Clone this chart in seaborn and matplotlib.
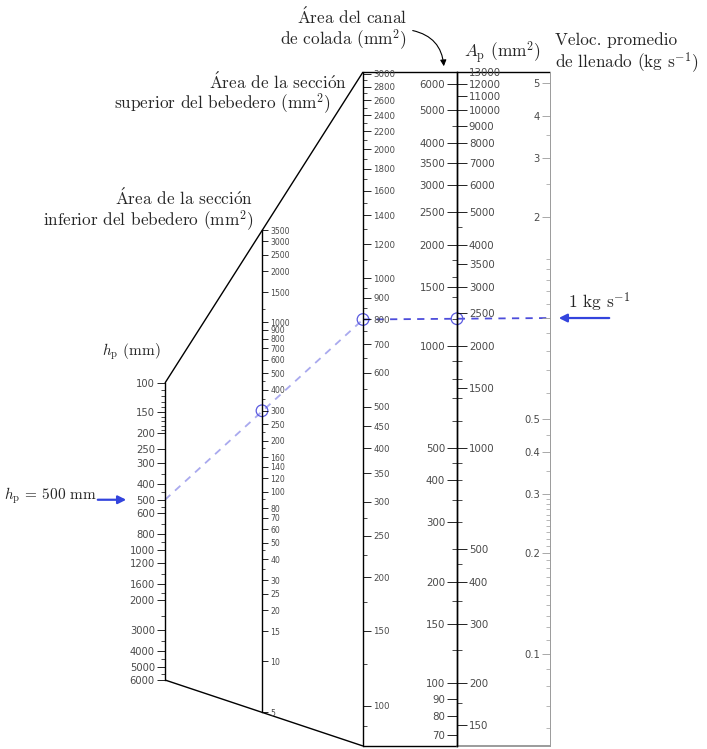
import matplotlib
matplotlib.use("Agg")
import matplotlib.pyplot as plt
from matplotlib.ticker import NullFormatter
import numpy as np
import seaborn as sns

# ---- scale values ----
hp_major = [100, 150, 200, 250, 300, 400, 500, 600, 800, 1000, 1200, 1600, 2000, 3000, 4000, 5000, 6000]
hp_minor = [110, 120, 130, 140, 160, 170, 180, 190, 350, 450, 550, 700, 900, 1400, 1800, 2500, 3500, 4500, 5500]

low_major = [3500, 3000, 2500, 2000, 1500, 1000, 900, 800, 700, 600, 500, 400, 300, 250, 200,
             160, 140, 120, 100, 80, 70, 60, 50, 40, 30, 25, 20, 15, 10, 5]
low_minor = [1200, 450, 350, 225, 180, 90, 45, 35]

up_major = [3000, 2800, 2600, 2400, 2200, 2000, 1800, 1600, 1400, 1200, 1000, 900, 800, 700,
            600, 500, 450, 400, 350, 300, 250, 200, 150, 100]
up_minor = [2900, 2700, 2500, 2300, 2100, 1900, 1700, 1500, 1300, 1100, 950, 850, 750, 650,
            550, 275, 225, 175, 125, 90]

ap_left_major = [6000, 5000, 4000, 3500, 3000, 2500, 2000, 1500, 1000, 500, 400, 300, 200, 150, 100, 90, 80, 70]
ap_left_minor = [4500, 1800, 1600, 1400, 1200, 900, 800, 700, 600, 450, 350, 250, 175, 125]
ap_right_major = [13000, 12000, 11000, 10000, 9000, 8000, 7000, 6000, 5000, 4000, 3500, 3000,
                  2500, 2000, 1500, 1000, 500, 400, 300, 200, 150]
ap_right_minor = [4500, 1800, 1600, 1400, 1200, 900, 800, 700, 600, 450, 350, 250, 175]

vel_major = [5, 4, 3, 2, 1, 0.5, 0.4, 0.3, 0.2, 0.1]
vel_labels = ['5', '4', '3', '2', '', '0.5', '0.4', '0.3', '0.2', '0.1']
vel_minor = [3.5, 2.5, 1.5, 1.4, 1.3, 1.2, 1.1, 0.9, 0.8, 0.7, 0.6, 0.45, 0.35,
             0.29, 0.28, 0.27, 0.26, 0.25, 0.24, 0.23, 0.22, 0.21,
             0.19, 0.18, 0.17, 0.16, 0.15, 0.14, 0.13, 0.12, 0.11,
             0.09, 0.08, 0.07, 0.06]

# worked example
hp_sel = 500
low_sel = 300
up_sel = 800
vel_sel = 1

sns.set_theme(style="white")
plt.rcParams['font.family'] = ['cmr10', 'DejaVu Serif']
plt.rcParams['mathtext.fontset'] = 'cm'
plt.rcParams['axes.unicode_minus'] = False

W, H = 707, 749
fig = plt.figure(figsize=(W / 100, H / 100), dpi=100)
base = fig.add_axes([0, 0, 1, 1])
base.set_xlim(0, W)
base.set_ylim(H, 0)
base.axis('off')

TICK_FONT = 'DejaVu Sans'


def scale(x, y_top, y_bot, lim, side, major, labels, minor, size=7.4, length=6.0,
          color='black', lw=1.0):
    ax = fig.add_axes([x / W, 1 - y_bot / H, 1e-5, (y_bot - y_top) / H])
    ax.patch.set_visible(False)
    ax.set_yscale('log')
    ax.set_ylim(*lim)
    ax.set_xlim(0, 1)
    ax.set_xticks([])
    for s in ['top', 'bottom', 'left', 'right']:
        ax.spines[s].set_visible(s == side)
    ax.spines[side].set_color(color)
    ax.spines[side].set_linewidth(lw)
    ax.yaxis.set_ticks_position(side)
    ax.set_yticks(major, labels=labels)
    ax.set_yticks(minor, minor=True)
    ax.yaxis.set_minor_formatter(NullFormatter())
    ax.tick_params(axis='y', which='major', direction='out', length=length, width=0.6,
                   color=color, labelcolor='#4a4a4a', labelsize=size, pad=1.5)
    ax.tick_params(axis='y', which='minor', direction='out', length=length * 0.5, width=0.5, color=color)
    for t in ax.get_yticklabels():
        t.set_fontfamily(TICK_FONT)
    return ax


ax_hp = scale(165, 383, 680, (6000, 100), 'left', hp_major, [str(v) for v in hp_major], hp_minor,
              size=7.2, length=5.8)
ax_low = scale(262, 230, 712, (5, 3500), 'right', low_major, [str(v) for v in low_major], low_minor,
               size=5.6, length=4.3)
ax_up = scale(363, 72, 746, (80.6, 3030), 'right', up_major, [str(v) for v in up_major], up_minor,
              size=6.2, length=5.8)
ax_apl = scale(457, 72, 746, (65.1, 6500), 'left', ap_left_major, [str(v) for v in ap_left_major],
               ap_left_minor, size=7.4, length=7.0)
ax_apr = scale(457, 72, 746, (130.2, 13000), 'right', ap_right_major, [str(v) for v in ap_right_major],
               ap_right_minor, size=7.4, length=7.0)
ax_vel = scale(550, 72, 746, (0.0532, 5.40), 'left', vel_major, vel_labels, vel_minor,
               size=7.2, length=5.8, color='#9a9a9a', lw=0.7)


def pt(ax, v):
    disp = ax.transData.transform((0, v))
    return base.transData.inverted().transform(disp)


# frame lines joining the scale ends
frame = [(pt(ax_hp, 100), pt(ax_up, 3030)),
         (pt(ax_hp, 6000), pt(ax_up, 80.6)),
         (pt(ax_up, 3030), pt(ax_vel, 5.40)),
         (pt(ax_up, 80.6), pt(ax_apr, 130.2))]
for a, b in frame:
    base.plot([a[0], b[0]], [a[1], b[1]], color='black', lw=1.0, solid_capstyle='butt')
base.plot([pt(ax_apr, 130.2)[0], pt(ax_vel, 0.0532)[0]], [pt(ax_up, 80.6)[1]] * 2,
          color='#8a8a8a', lw=1.2)

# worked example lines
p_hp = pt(ax_hp, hp_sel)
p_low = pt(ax_low, low_sel)
p_up = pt(ax_up, up_sel)
p_vel = pt(ax_vel, vel_sel)
x_ap = pt(ax_apr, 1000)[0]
p_ap = np.array([x_ap, np.interp(x_ap, [p_up[0], p_vel[0]], [p_up[1], p_vel[1]])])

sns.lineplot(x=[p_hp[0], p_up[0]], y=[p_hp[1], p_up[1]], ax=base, sort=False, estimator=None,
             color='#a9a9ee', lw=1.3, linestyle=(0, (4, 3.5)))
sns.lineplot(x=[p_up[0], p_vel[0]], y=[p_up[1], p_vel[1]], ax=base, sort=False, estimator=None,
             color='#4d4ddb', lw=1.3, linestyle=(0, (4, 3.5)))
circ = np.array([p_low, p_up, p_ap])
sns.scatterplot(x=circ[:, 0], y=circ[:, 1], ax=base, s=70, marker='o', facecolor='none',
                edgecolor='#5a5ae0', linewidth=0.9, zorder=5)

# arrows with the given inputs
base.annotate('', xy=(p_hp[0] - 36, p_hp[1]), xytext=(p_hp[0] - 70, p_hp[1]),
              arrowprops=dict(arrowstyle='-|>', color='#3344dd', lw=1.6, mutation_scale=12))
base.text(4, p_hp[1] - 4, r'$h_\mathrm{p}$ = 500 mm', ha='left', va='center', fontsize=11)
base.annotate('', xy=(p_vel[0] + 6, p_vel[1]), xytext=(p_vel[0] + 62, p_vel[1]),
              arrowprops=dict(arrowstyle='-|>', color='#3344dd', lw=1.6, mutation_scale=12))
base.text(568, p_vel[1] - 16, r'1 kg s$^{-1}$', ha='left', va='center', fontsize=12.5)

# scale titles (accents through mathtext so the Computer Modern font is kept)
FS = 12.4
A_AC = r'$\acute{\mathrm{A}}$'
O_AC = r'$\acute{\mathrm{o}}$'
seccion = A_AC + 'rea de la secci' + O_AC + 'n'
base.text(407, 16, A_AC + 'rea del canal', ha='right', va='center', fontsize=FS)
base.text(407, 40, r'de colada (mm$^2$)', ha='right', va='center', fontsize=FS)
base.annotate('', xy=(444, 69), xytext=(410, 30),
              arrowprops=dict(arrowstyle='-|>', color='black', lw=0.8, mutation_scale=9,
                              connectionstyle='arc3,rad=-0.4'))
base.text(464, 53, r'$A_\mathrm{p}$ (mm$^2$)', ha='left', va='center', fontsize=FS)
base.text(555, 40, 'Veloc. promedio', ha='left', va='center', fontsize=FS)
base.text(555, 63, r'de llenado (kg s$^{-1}$)', ha='left', va='center', fontsize=FS)
base.text(347, 81, seccion, ha='right', va='center', fontsize=FS)
base.text(331, 104, r'superior del bebedero (mm$^2$)', ha='right', va='center', fontsize=FS)
base.text(253, 197, seccion, ha='right', va='center', fontsize=FS)
base.text(253, 221, r'inferior del bebedero (mm$^2$)', ha='right', va='center', fontsize=FS)
base.text(161, 352, r'$h_\mathrm{p}$ (mm)', ha='right', va='center', fontsize=11)

fig.savefig('out.png', dpi=100)
